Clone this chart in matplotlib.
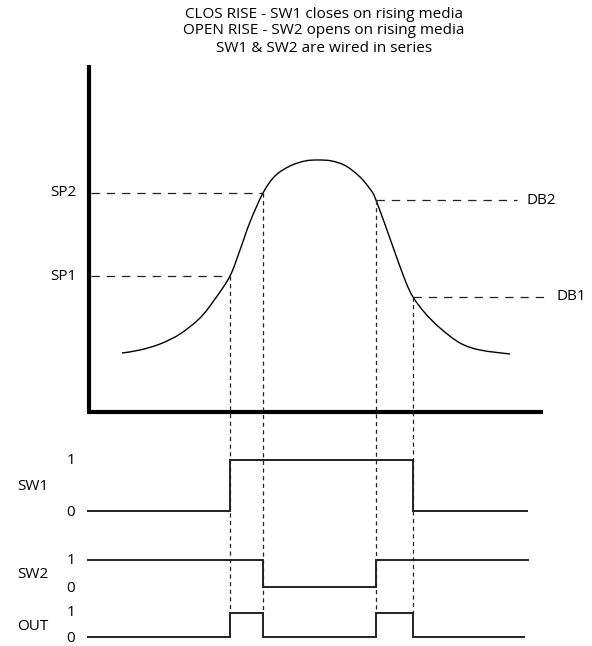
import matplotlib
matplotlib.use("Agg")
import matplotlib.pyplot as plt
import numpy as np
from matplotlib.path import Path
from matplotlib.patches import PathPatch

plt.rcParams['font.family'] = ['Open Sans', 'DejaVu Sans']
plt.rcParams['lines.scale_dashes'] = False

# diagram is drawn in pixel units of the original picture (x = time, y = level)
title_lines = ["CLOS RISE - SW1 closes on rising media",
               "OPEN RISE - SW2 opens on rising media",
               "SW1 & SW2 are wired in series"]

# media level curve
curve_t = [122, 140, 160, 180, 200, 215, 230, 240, 250, 263, 275, 290, 305, 318,
           332, 346, 360, 370, 376, 393, 405, 413, 425, 440, 460, 480, 510]
curve_y = [353, 350, 344, 334, 318, 299, 276, 250, 222, 193, 176, 166, 161, 160,
           161, 166, 177, 189, 200, 247, 280, 297, 313, 328, 343, 350, 354]

# switching points on the curve
sp_names = ["SP1", "SP2"]
sp_t = [230, 263]
sp_y = [276, 193]
db_names = ["DB2", "DB1"]
db_t = [376, 413]
db_y = [200, 297]
db_line_end = [517, 547]

# timing signals (0/1 states between edges)
sw1_edges = [87, 230, 413, 528]
sw1_states = [0, 1, 0]
sw2_edges = [87, 263, 376, 529]
sw2_states = [1, 0, 1]
out_edges = [87, 230, 263, 376, 413, 525]
out_states = [0, 1, 0, 1, 0]

signal_names = ["SW1", "SW2", "OUT"]
signal_low = [511, 587, 637]
signal_high = [460, 560, 613]


def smooth_path(xs, ys):
    pts = np.column_stack([xs, ys]).astype(float)
    verts = [pts[0]]
    codes = [Path.MOVETO]
    n = len(pts)
    for i in range(n - 1):
        p0 = pts[max(i - 1, 0)]
        p1 = pts[i]
        p2 = pts[i + 1]
        p3 = pts[min(i + 2, n - 1)]
        verts += [p1 + (p2 - p0) / 6, p2 - (p3 - p1) / 6, p2]
        codes += [Path.CURVE4] * 3
    return Path(verts, codes)


fig = plt.figure(figsize=(5.92, 6.46), dpi=100)
ax = fig.add_axes([0, 0, 1, 1])
ax.set_xlim(0, 592)
ax.set_ylim(646, 0)
ax.axis("off")

# title
for i, line in enumerate(title_lines):
    ax.text(324, 14 + i * 17, line, ha="center", va="center", fontsize=11)

# thick axes of the level chart
ax.plot([88.5, 88.5], [65, 411.5], color="black", lw=3, solid_capstyle="butt")
ax.plot([87, 543], [411.5, 411.5], color="black", lw=3, solid_capstyle="butt")

ax.add_patch(PathPatch(smooth_path(curve_t, curve_y), fill=False, color="black", lw=1.0))

dash_h = dict(color="#222222", lw=0.9, dashes=(6, 5))
dash_v = dict(color="#222222", lw=0.9, dashes=(3, 2.5))

for name, t, y in zip(sp_names, sp_t, sp_y):
    ax.plot([91, t], [y, y], **dash_h)
    ax.text(50, y, name, ha="left", va="center", fontsize=11)
    ax.plot([t, t], [y, signal_high[2]], **dash_v)

for name, t, y, x_end in zip(db_names, db_t, db_y, db_line_end):
    ax.plot([t, x_end], [y, y], **dash_h)
    ax.text(x_end + 10, y, name, ha="left", va="center", fontsize=11)
    ax.plot([t, t], [y, signal_high[2]], **dash_v)

signals = [(sw1_edges, sw1_states), (sw2_edges, sw2_states), (out_edges, out_states)]
for k, (edges, states) in enumerate(signals):
    lo, hi = signal_low[k], signal_high[k]
    levels = [lo + s * (hi - lo) for s in states]
    ax.stairs(levels, edges, baseline=None, color="#222222", lw=1.4)
    ax.text(71, hi, "1", ha="center", va="center", fontsize=11)
    ax.text(71, lo + 1, "0", ha="center", va="center", fontsize=11)
    ax.text(33, (lo + hi) / 2 + 1, signal_names[k], ha="center", va="center", fontsize=11)

fig.savefig("out.png", dpi=100)
